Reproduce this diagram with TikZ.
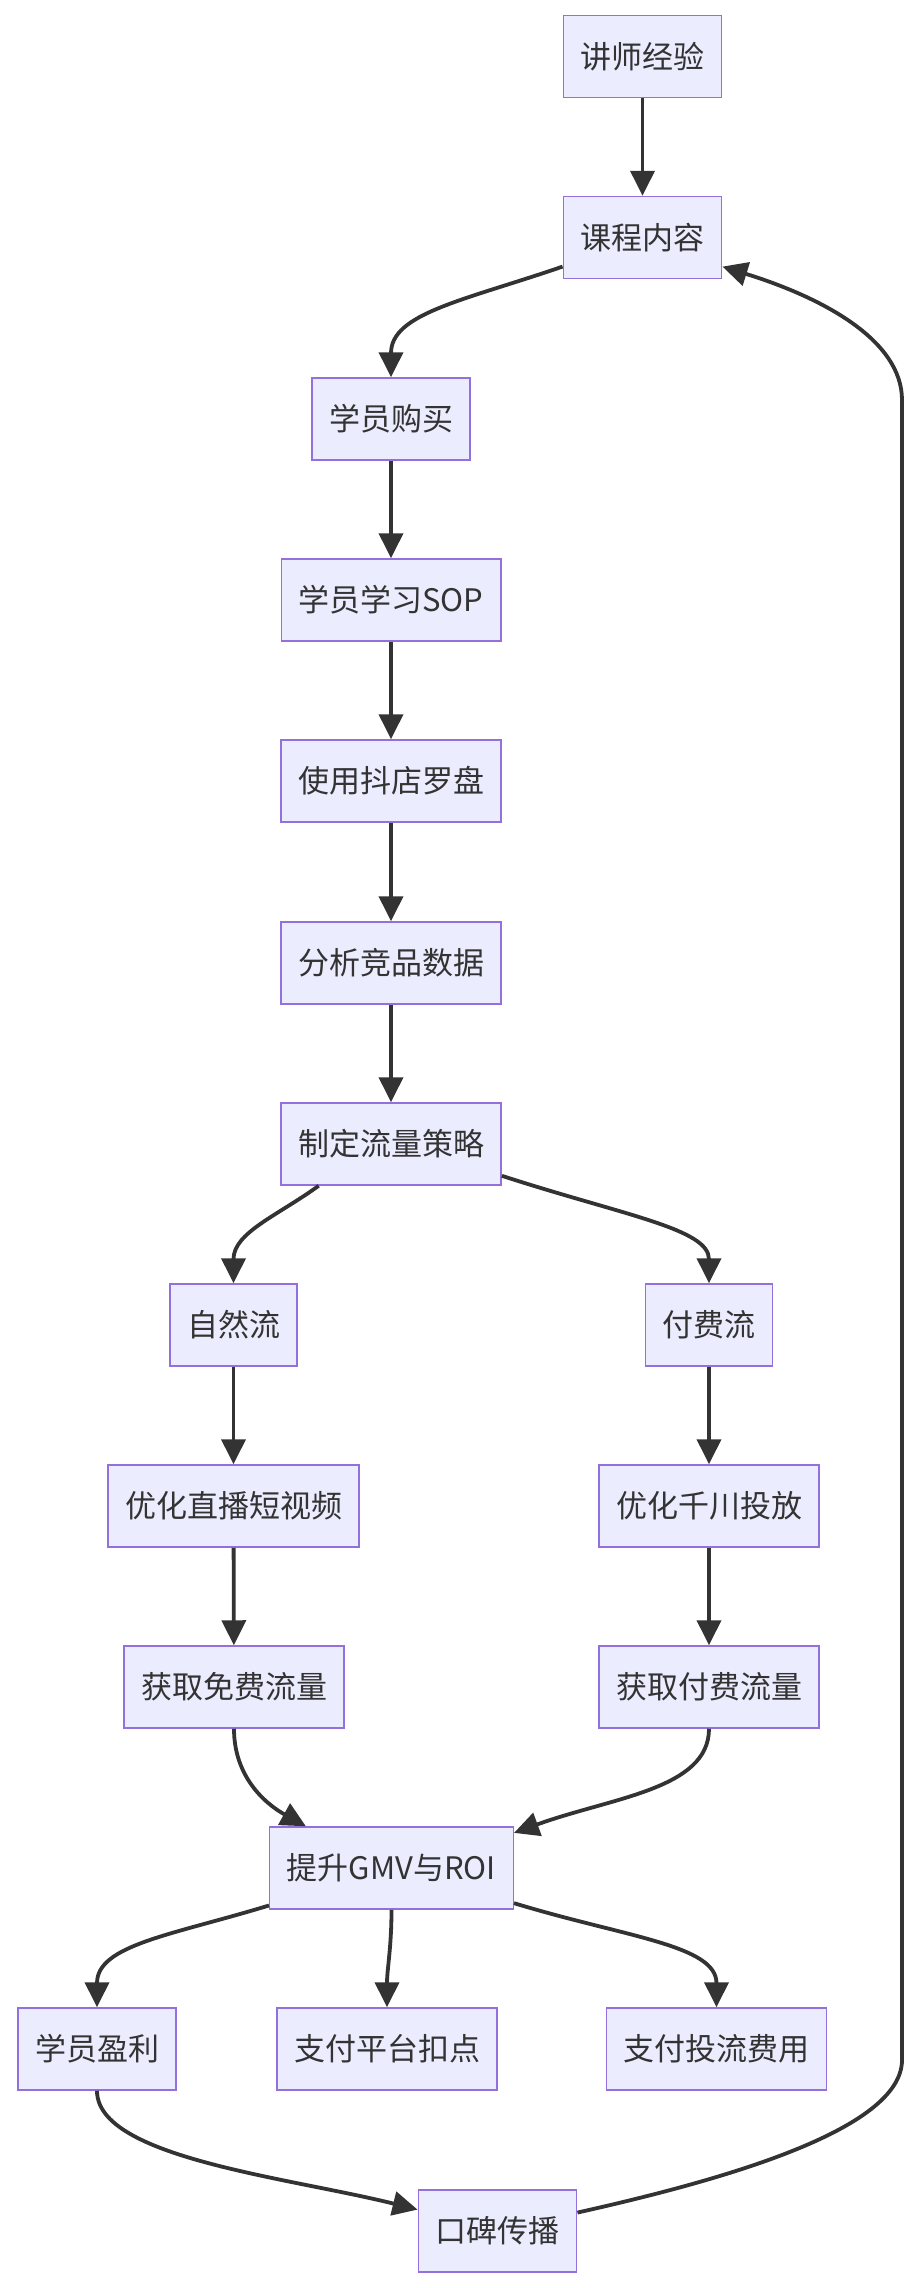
\documentclass[tikz,border=0pt]{standalone}
\usepackage{fontspec}
\setmainfont{Noto Sans CJK SC}
\usepackage{tikz}
\usetikzlibrary{arrows.meta}
\definecolor{boxline}{HTML}{9370DB}
\definecolor{boxfill}{HTML}{ECECFF}
\definecolor{inkgray}{HTML}{333333}
\tikzset{
  flowarrow/.style={-{Triangle[length=12.5pt, width=12pt]}, line width=1.9pt, draw=inkgray},
  stepbox/.style={draw=boxline, fill=boxfill, line width=0.75pt, minimum height=41pt, inner xsep=8.6pt, text=inkgray, font=\fontsize{15.5}{18}\selectfont}
}

\begin{document}
\begin{tikzpicture}[x=0.5pt, y=-0.5pt]
  \useasboundingbox (0,0) rectangle (918,2288);
  \node[stepbox] (jx) at (642.5,56.5) {讲师经验};
  \node[stepbox] (kc) at (642.5,237.5) {课程内容};
  \node[stepbox] (gm) at (391,419) {学员购买};
  \node[stepbox] (xx) at (391,600) {学员学习SOP};
  \node[stepbox] (lp) at (391,781) {使用抖店罗盘};
  \node[stepbox] (fx) at (391,963) {分析竞品数据};
  \node[stepbox] (cl) at (391,1144) {制定流量策略};
  \node[stepbox] (zr) at (233.5,1325) {自然流};
  \node[stepbox] (ff) at (709,1325) {付费流};
  \node[stepbox] (yh) at (233.5,1506) {优化直播短视频};
  \node[stepbox] (yq) at (709,1506) {优化千川投放};
  \node[stepbox] (hm) at (234,1687) {获取免费流量};
  \node[stepbox] (hf) at (709,1687) {获取付费流量};
  \node[stepbox] (ts) at (391.5,1868) {提升GMV与ROI};
  \node[stepbox] (yl) at (97,2049) {学员盈利};
  \node[stepbox] (zf) at (387,2049) {支付平台扣点};
  \node[stepbox] (zt) at (716.5,2049) {支付投流费用};
  \node[stepbox] (kb) at (497.5,2231) {口碑传播};
  % return path on the right
  \coordinate (rb) at (902,2060);
  \coordinate (rt) at (902,400);

  \draw[flowarrow] (jx) -- (kc);
  \draw[flowarrow] (kc.200) to[out=199, in=90, out looseness=1.3, in looseness=0.8] (gm.north);
  \draw[flowarrow] (gm) -- (xx);
  \draw[flowarrow] (xx) -- (lp);
  \draw[flowarrow] (lp) -- (fx);
  \draw[flowarrow] (fx) -- (cl);
  \draw[flowarrow] (cl.210) to[out=216, in=90] (zr.north);
  \draw[flowarrow] (cl.344) to[out=-18, in=90, out looseness=1.4, in looseness=0.6] (ff.north);
  \draw[flowarrow] (zr) -- (yh);
  \draw[flowarrow] (yh) -- (hm);
  \draw[flowarrow] (ff) -- (yq);
  \draw[flowarrow] (yq) -- (hf);
  \draw[flowarrow] (hm.south) to[out=-90, in=151] (ts.154);
  \draw[flowarrow] (hf.south) to[out=-90, in=20, out looseness=0.7, in looseness=1.2] (ts.16);
  \draw[flowarrow] (ts.197) to[out=197, in=90, out looseness=1.3, in looseness=0.8] (yl.north);
  \draw[flowarrow] (ts.south) to[out=-90, in=90] (zf.north);
  \draw[flowarrow] (ts.344) to[out=-17, in=90, out looseness=1.3, in looseness=0.7] (zt.north);
  \draw[flowarrow] (yl.south) to[out=-90, in=166, out looseness=0.5] (kb.165);
  \draw[flowarrow] (kb.13) .. controls +(143,-32) and +(0,70) .. (rb) -- (rt)
    .. controls +(0,-60) and +(100,31) .. (kc.340);
\end{tikzpicture}
\end{document}
